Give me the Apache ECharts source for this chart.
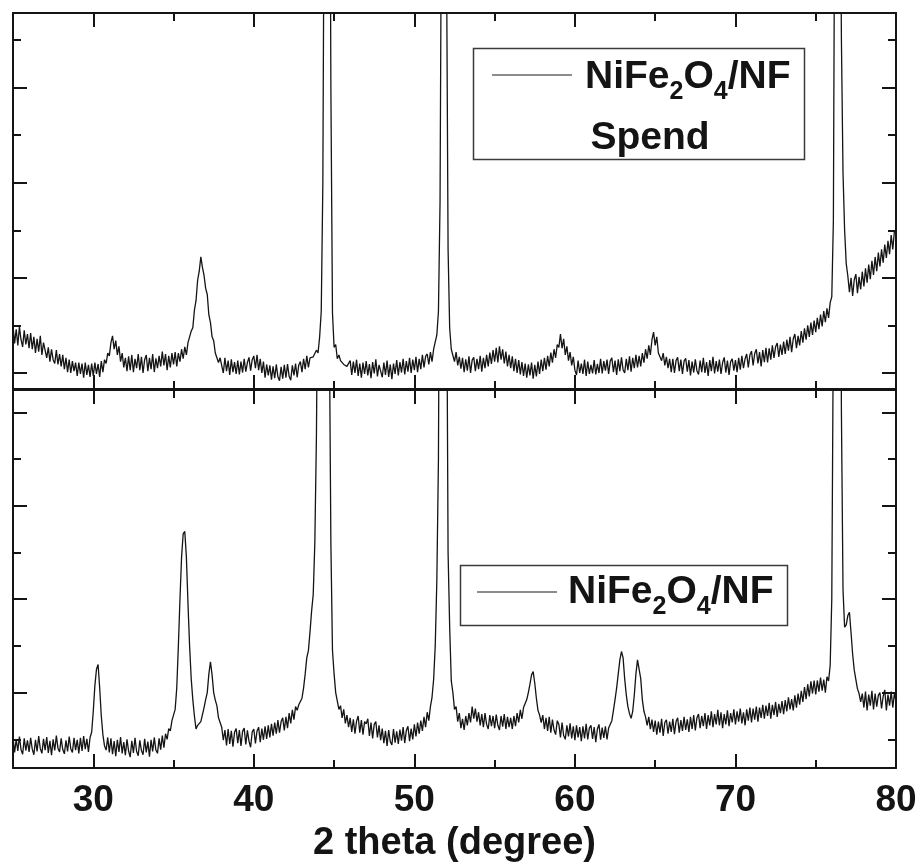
<!DOCTYPE html>
<html>
<head>
<meta charset="utf-8">
<title>XRD NiFe2O4/NF</title>
<script src="https://cdn.jsdelivr.net/npm/echarts@6.0.0/dist/echarts.min.js"></script>
<style>
  html, body { margin: 0; padding: 0; background: #ffffff; }
  #chart { width: 922px; height: 867px; }
</style>
</head>
<body>
<div id="chart"></div>
<script>
// 2θ scan: 25.0° to 80.0°, 0.1° step
const angleStart = 25.0;
const angleStep = 0.1;

// Spent NiFe2O4/NF (upper panel), intensity in a.u., one row per degree
const spentCounts = [
  100, 62, 92, 58, 97, 70, 55, 90, 60, 82,
  52, 84, 50, 76, 42, 72, 45, 78, 38, 64,
  60, 32, 54, 24, 50, 28, 20, 48, 18, 40,
  14, 38, 8, 32, 2, 28, 0, 25, 4, 22,
  -6, 22, -2, 20, -10, 22, -4, 17, -8, 20,
  -6, 22, -2, 19, -8, 25, 2, 28, 20, 42,
  36, 64, 78, 50, 68, 38, 56, 24, 42, 12,
  32, 4, 35, 6, 38, 2, 30, 10, 40, 6,
  34, 0, 28, 38, 4, 32, 8, 40, 2, 31,
  10, 36, 14, 45, 16, 40, 6, 36, 12, 42,
  18, 44, 14, 42, 24, 50, 30, 55, 38, 64,
  60, 88, 95, 132, 152, 195, 214, 244, 222, 205,
  178, 165, 122, 106, 76, 68, 42, 46, 22, 32,
  28, 0, 32, 4, 26, -4, 29, 2, 23, -2,
  26, -3, 24, 1, 30, 3, 22, 33, 5, 28,
  36, 10, 38, 6, 30, 0, 24, -10, 18, -5,
  16, -14, 14, -11, 18, -8, -16, 13, -12, 17,
  -10, 19, -7, -15, 16, -5, 20, -9, 17, 24,
  2, 30, 8, 36, 12, 32, 28, 34, 32, 48,
  42, 76, 130, 400, 1200, 2500, 2800, 1500, 600, 126,
  54, 60, 30, 38, 26, 28, 18, 22, 14, 18,
  26, -4, 24, 0, 28, -6, 20, -10, 22, -2,
  25, -5, 19, -11, 23, -1, 29, -7, 17, 21,
  -9, 22, -4, 26, -8, 18, -13, 20, -2, 27,
  -5, 23, 1, 30, -3, 25, 3, 32, 0, 28,
  6, 34, 2, 30, 8, 38, 12, 35, 40, 18,
  44, 24, 50, 52, 80, 130, 360, 1100, 2600, 2200,
  900, 260, 94, 50, 52, 24, 44, 16, 34, 9,
  32, 2, 29, 5, 35, 0, 27, 33, 4, 30,
  8, 36, 3, 32, 10, 38, 14, 43, 19, 48,
  24, 53, 22, 56, 28, 50, 20, 45, 14, 38,
  10, 35, 4, 30, 0, 27, -3, 23, -6, 20,
  -10, 18, -5, 22, -12, 17, -7, 24, -2, 28,
  4, 32, 7, 36, 14, 43, 22, 50, 32, 60,
  54, 82, 52, 72, 38, 56, 26, 44, 16, 34,
  6, -4, 26, 0, 20, -2, 28, -6, 24, -2,
  17, -1, 27, -3, 19, 0, 30, -1, 25, 5,
  28, -2, 25, 32, 2, 26, -4, 29, 4, 33,
  7, 0, 30, 6, 35, 3, 32, 10, 38, 12,
  36, 14, 42, 22, 50, 30, 58, 38, 70, 86,
  58, 76, 42, 46, 26, 42, 16, 34, 10, 30,
  2, 30, 0, 26, 33, 4, 28, -2, 25, 31,
  3, 27, -5, 24, 1, 29, 5, -3, 26, 2,
  32, 0, 23, -6, 27, 4, 34, -1, 25, 3,
  28, -2, 22, 33, 1, 26, -4, 24, 30, 5,
  27, 2, 32, 7, 36, 10, 30, 40, 12, 38,
  46, 16, 41, 50, 20, 44, 14, 48, 23, 53,
  22, 52, 28, 58, 32, 55, 63, 34, 60, 38,
  66, 40, 70, 47, 76, 44, 72, 82, 52, 78,
  58, 88, 64, 94, 70, 100, 76, 106, 80, 110,
  86, 116, 92, 123, 98, 130, 107, 136, 116, 148,
  160, 320, 1200, 2600, 2400, 1200, 700, 420, 300, 230,
  204, 170, 200, 162, 196, 208, 168, 202, 176, 213,
  182, 220, 190, 228, 197, 236, 206, 244, 214, 253,
  224, 260, 232, 270, 242, 278, 250, 290, 260, 298,
  300
];

// Fresh NiFe2O4/NF (lower panel), intensity in a.u., one row per degree
const freshCounts = [
  4, -28, 0, -25, 6, -22, -32, 2, -24, -2,
  -27, 3, -21, -33, -1, -26, 7, -20, -30, 1,
  -23, 5, -29, -3, -34, 0, -24, 8, -19, -27,
  2, -22, -31, -2, -26, 6, -20, -28, 3, -23,
  -1, -30, 3, -25, 7, -21, 1, -27, 4, 15,
  60, 115, 150, 160, 110, 50, 10, -14, -23, 4,
  -28, 2, -32, -4, -36, -1, -27, 5, -30, -6,
  -34, 0, -25, -38, -3, -29, 3, -26, -35, -2,
  -24, -33, 1, -28, -5, -37, -1, -26, 4, -23,
  -30, 2, -22, 8, -18, 12, 0, 23, 18, 40,
  36, 64, 110, 200, 300, 390, 440, 445, 390, 290,
  200, 130, 85, 50, 22, 30, 26, 38, 42, 68,
  85, 100, 140, 166, 138, 100, 84, 72, 46, 36,
  26, -2, 20, -13, 22, -10, 18, -16, 15, 23,
  -8, 20, -14, 17, 24, -11, 19, -4, -17, 16,
  22, -9, 18, 26, -6, 23, -1, 28, 1, 30,
  4, 33, 8, 36, 12, 41, 14, 38, 46, 19,
  48, 24, 56, 34, 63, 42, 70, 62, 74, 72,
  88, 110, 140, 175, 190, 230, 275, 310, 420, 650,
  1100, 1700, 2300, 2600, 2400, 2000, 1500, 900, 420, 190,
  140, 100, 96, 64, 72, 46, 64, 34, 52, 26,
  46, 16, 43, 12, 39, 50, 14, 41, 10, 38,
  33, 44, 7, 36, 2, 32, 38, 4, 30, -2,
  23, -8, 18, -14, 20, -5, -12, 22, -7, 17,
  -10, 21, -3, 26, -8, 19, 28, -4, 23, 0,
  32, 6, 36, 12, 40, 18, 48, 26, 58, 40,
  70, 90, 128, 200, 340, 600, 1400, 2500, 2800, 2500,
  1100, 400, 240, 125, 100, 64, 70, 38, 56, 24,
  44, 20, 50, 30, 56, 36, 70, 44, 66, 38,
  58, 30, 54, 26, 56, 32, 22, 52, 28, 50,
  24, 53, 30, 20, 50, 27, 54, 22, 48, 26,
  46, 22, 50, 28, 56, 36, 63, 44, 68, 70,
  85, 100, 118, 138, 145, 120, 88, 62, 52, 36,
  52, 22, 46, 18, 48, 14, 42, 20, 10, 40,
  32, 4, 36, 8, 0, 30, 6, 34, 2, 28,
  -2, 30, 4, 26, -4, 28, 2, 33, 0, 24,
  30, 1, 26, -6, 22, 32, -1, 25, 3, 28,
  0, 24, 26, 40, 62, 85, 110, 140, 170, 188,
  175, 130, 95, 70, 55, 45, 60, 95, 140, 170,
  168, 130, 85, 60, 48, 30, 48, 22, 42, 16,
  40, 10, 38, 14, 44, 7, 36, 42, 12, 38,
  16, 44, 11, 38, 46, 14, 41, 18, 48, 20,
  43, 16, 48, 22, 52, 19, 46, 54, 24, 50,
  28, 56, 22, 52, 30, 60, 26, 54, 32, 63,
  30, 58, 24, 54, 32, 62, 28, 56, 36, 64,
  32, 60, 38, 66, 34, 58, 30, 64, 40, 68,
  36, 66, 42, 70, 38, 68, 46, 74, 44, 72,
  50, 78, 44, 74, 52, 80, 48, 76, 56, 82,
  54, 84, 60, 90, 64, 86, 62, 94, 68, 98,
  74, 104, 80, 112, 86, 118, 92, 124, 98, 126,
  96, 126, 102, 132, 104, 128, 100, 134, 125, 158,
  300, 900, 2200, 2800, 2400, 1500, 700, 320, 240, 245,
  265, 272, 228, 182, 148, 128, 108, 98, 80, 98,
  68, 102, 62, 96, 72, 104, 64, 98, 70, 94,
  100, 66, 92, 106, 62, 96, 72, 102, 68, 98,
  82
];

// Axis ticks
const majorAngles = [30, 40, 50, 60, 70, 80];
const minorAngles = [35, 45, 55, 65, 75];
const topMajorTicks = [0, 200, 400, 600];
const topMinorTicks = [100, 300, 500, 700];
const bottomMajorTicks = [100, 300, 500, 700];
const bottomMinorTicks = [0, 200, 400, 600];

const angleRange = [25, 80];
const topRange = [-33.6, 756.8];
const bottomRange = [-61.4, 747.8];

const axisTitle = '2 theta (degree)';
const legendFormula = '{m|NiFe}{s|2}{m|O}{s|4}{m|/NF}';
const spentTag = 'Spend';

const FONT = '"Liberation Sans", Arial, Helvetica, sans-serif';
const INK = '#141414';

function toPairs(counts) {
  return counts.map((v, i) => [+(angleStart + i * angleStep).toFixed(1), v]);
}

function xAx(gridIndex, position, ticks, len, withLine, extra) {
  return Object.assign({
    type: 'value', gridIndex, position,
    min: angleRange[0], max: angleRange[1],
    axisLine: { show: withLine, onZero: false, lineStyle: { color: INK, width: 2 } },
    axisTick: { show: true, inside: true, length: len, customValues: ticks,
                lineStyle: { color: INK, width: 2 } },
    axisLabel: { show: false },
    splitLine: { show: false }
  }, extra || {});
}

function yAx(gridIndex, position, range, ticks, len, withLine) {
  return {
    type: 'value', gridIndex, position,
    min: range[0], max: range[1],
    axisLine: { show: withLine, onZero: false, lineStyle: { color: INK, width: 2 } },
    axisTick: { show: true, inside: true, length: len, customValues: ticks,
                lineStyle: { color: INK, width: 2 } },
    axisLabel: { show: false },
    splitLine: { show: false }
  };
}

const labelledBottom = {
  axisLabel: {
    show: true, customValues: majorAngles, margin: 14,
    fontSize: 37, fontWeight: 'bold', fontFamily: FONT, color: INK
  },
  name: axisTitle, nameLocation: 'middle', nameGap: 57,
  nameTextStyle: { fontSize: 38, fontWeight: 'bold', fontFamily: FONT, color: INK }
};

// subscripts sit low in the line box
const legendRich = {
  m: { fontSize: 39, fontWeight: 'bold', fontFamily: FONT, fill: INK, lineHeight: 56 },
  s: { fontSize: 25, fontWeight: 'bold', fontFamily: FONT, fill: INK, lineHeight: 10,
       verticalAlign: 'bottom' }
};

const chart = echarts.init(document.getElementById('chart'), null, { renderer: 'canvas' });

chart.setOption({
  backgroundColor: '#ffffff',
  animation: false,
  grid: [
    { left: 13, top: 13, width: 883, height: 376 },
    { left: 13, top: 390, width: 883, height: 378 }
  ],
  xAxis: [
    xAx(0, 'bottom', majorAngles, 14, true),
    xAx(0, 'bottom', minorAngles, 8, false),
    xAx(0, 'top', majorAngles, 14, true),
    xAx(0, 'top', minorAngles, 8, false),
    xAx(1, 'bottom', majorAngles, 14, true, labelledBottom),
    xAx(1, 'bottom', minorAngles, 8, false),
    xAx(1, 'top', majorAngles, 14, true),
    xAx(1, 'top', minorAngles, 8, false)
  ],
  yAxis: [
    yAx(0, 'left', topRange, topMajorTicks, 14, true),
    yAx(0, 'left', topRange, topMinorTicks, 8, false),
    yAx(0, 'right', topRange, topMajorTicks, 14, true),
    yAx(0, 'right', topRange, topMinorTicks, 8, false),
    yAx(1, 'left', bottomRange, bottomMajorTicks, 14, true),
    yAx(1, 'left', bottomRange, bottomMinorTicks, 8, false),
    yAx(1, 'right', bottomRange, bottomMajorTicks, 14, true),
    yAx(1, 'right', bottomRange, bottomMinorTicks, 8, false)
  ],
  series: [
    {
      name: 'NiFe2O4/NF Spend', type: 'line', xAxisIndex: 0, yAxisIndex: 0,
      data: toPairs(spentCounts), showSymbol: false, symbol: 'none', clip: true,
      lineStyle: { color: INK, width: 1.3 }
    },
    {
      name: 'NiFe2O4/NF', type: 'line', xAxisIndex: 4, yAxisIndex: 4,
      data: toPairs(freshCounts), showSymbol: false, symbol: 'none', clip: true,
      lineStyle: { color: INK, width: 1.3 }
    }
  ],
  graphic: [
    // upper legend
    { type: 'rect', z: 100, shape: { x: 473.5, y: 48.5, width: 331, height: 111 },
      style: { fill: '#ffffff', stroke: '#3a3a3a', lineWidth: 1.5 } },
    { type: 'line', z: 101, shape: { x1: 492, y1: 75, x2: 572, y2: 75 },
      style: { stroke: '#666666', lineWidth: 1.5 } },
    { type: 'text', z: 101, x: 585, y: 77,
      style: { text: legendFormula, rich: legendRich, verticalAlign: 'middle', align: 'left' } },
    { type: 'text', z: 101, x: 650, y: 138,
      style: { text: spentTag, fontSize: 39, fontWeight: 'bold', fontFamily: FONT, fill: INK,
               align: 'center', verticalAlign: 'middle' } },
    // lower legend
    { type: 'rect', z: 100, shape: { x: 460.5, y: 565.5, width: 327, height: 60 },
      style: { fill: '#ffffff', stroke: '#3a3a3a', lineWidth: 1.5 } },
    { type: 'line', z: 101, shape: { x1: 477, y1: 592, x2: 557, y2: 592 },
      style: { stroke: '#666666', lineWidth: 1.5 } },
    { type: 'text', z: 101, x: 568, y: 592,
      style: { text: legendFormula, rich: legendRich, verticalAlign: 'middle', align: 'left' } }
  ]
});
</script>
</body>
</html>
